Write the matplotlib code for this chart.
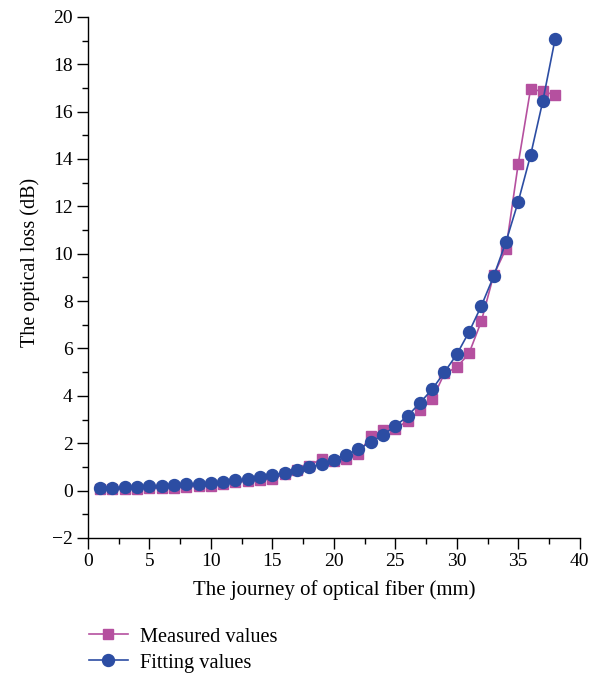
import matplotlib
matplotlib.use("Agg")
import matplotlib.pyplot as plt
from matplotlib.ticker import MultipleLocator

plt.rcParams['font.family'] = ['Liberation Serif', 'DejaVu Serif']

x = list(range(1, 39))
measured = [0.05, 0.05, 0.06, 0.08, 0.10, 0.10, 0.12, 0.16, 0.18, 0.20,
            0.30, 0.35, 0.40, 0.45, 0.50, 0.70, 0.85, 1.05, 1.35, 1.25,
            1.35, 1.55, 2.30, 2.55, 2.60, 2.95, 3.40, 3.85, 4.95, 5.20,
            5.80, 7.15, 9.10, 10.20, 13.80, 16.95, 16.85, 16.70]
fitting = [0.12, 0.13, 0.14, 0.16, 0.18, 0.20, 0.22, 0.26, 0.29, 0.33,
           0.38, 0.43, 0.50, 0.56, 0.65, 0.75, 0.86, 0.98, 1.12, 1.30,
           1.50, 1.75, 2.05, 2.35, 2.72, 3.15, 3.70, 4.28, 5.00, 5.75,
           6.70, 7.80, 9.05, 10.50, 12.20, 14.15, 16.45, 19.07]

pink = '#B5509F'
blue = '#2C4DA3'

fig = plt.figure(figsize=(6.02, 6.73), dpi=100)
ax = fig.add_axes([0.146, 0.2006, 0.817, 0.7744])

l1, = ax.plot(x, measured, color=pink, marker='s', markersize=7, linewidth=1.2,
              label='Measured values', zorder=2)
l2, = ax.plot(x, fitting, color=blue, marker='o', markersize=8.6, linewidth=1.2,
              label='Fitting values', zorder=3)

ax.set_xlim(0, 40)
ax.set_ylim(-2, 20)
ax.xaxis.set_major_locator(MultipleLocator(5))
ax.xaxis.set_minor_locator(MultipleLocator(2.5))
ax.yaxis.set_major_locator(MultipleLocator(2))
ax.yaxis.set_minor_locator(MultipleLocator(1))
ax.spines['top'].set_visible(False)
ax.spines['right'].set_visible(False)
for s in ['left', 'bottom']:
    ax.spines[s].set_linewidth(1.0)
ax.tick_params(axis='both', which='major', direction='out', length=8, width=1.0,
               labelsize=14, pad=3)
ax.tick_params(axis='both', which='minor', direction='out', length=4, width=1.0)
ax.set_yticks([-2, 0, 2, 4, 6, 8, 10, 12, 14, 16, 18, 20])
ax.set_yticklabels(['\u22122', '0', '2', '4', '6', '8', '10', '12', '14', '16', '18', '20'])

ax.set_xlabel('The journey of optical fiber (mm)', fontsize=15, labelpad=7)
ax.set_ylabel('The optical loss (dB)', fontsize=14.5)
ax.yaxis.set_label_coords(-0.097, 0.528)

leg = fig.legend(handles=[l1, l2], loc='upper left', bbox_to_anchor=(0.148, 0.068),
                 frameon=False, fontsize=14.7, handlelength=1.9, handletextpad=0.6,
                 labelspacing=0.33, borderaxespad=0, borderpad=0)

fig.savefig('out.png', dpi=100)
